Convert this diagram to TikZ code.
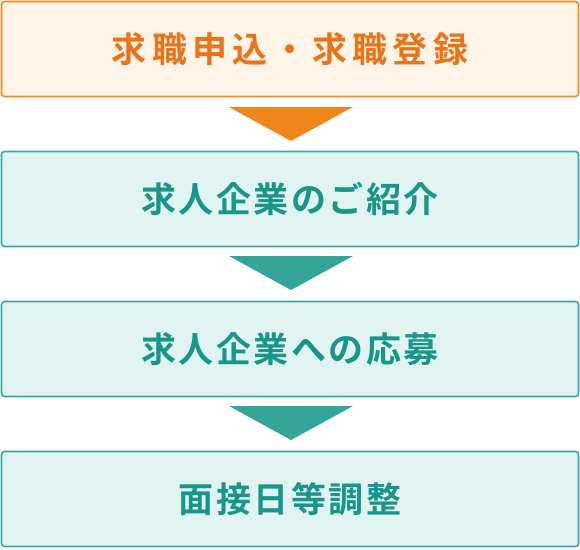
\documentclass[tikz,border=0pt]{standalone}
\usepackage{fontspec}
\newfontfamily\jpb[LetterSpace=7]{Noto Sans CJK JP Bold}
\newfontfamily\jpbw[LetterSpace=15]{Noto Sans CJK JP Bold}
\definecolor{obord}{HTML}{EF8B22}
\definecolor{ofill}{HTML}{FEF4E8}
\definecolor{otext}{HTML}{EC7418}
\definecolor{otri}{HTML}{EE861A}
\definecolor{tbord}{HTML}{3AA89D}
\definecolor{tfill}{HTML}{E1F4F2}
\definecolor{ttext}{HTML}{17968A}
\definecolor{ttri}{HTML}{35A59A}
\tikzset{
  stepbox/.style={draw=#1bord, fill=#1fill, line width=1.6pt, rounded corners=3pt,
    minimum width=577pt, minimum height=95pt, inner sep=0pt, text=#1text,
    font=\jpb\fontsize{35pt}{40pt}\selectfont},
  tri/.style={fill=#1tri, draw=none}
}
\begin{document}
\begin{tikzpicture}[x=1pt,y=-1pt]
\useasboundingbox (0,0) rectangle (580,549);
\node[stepbox=o, font=\jpbw\fontsize{35pt}{40pt}\selectfont] (s1) at (290,49) {求職申込\hspace{5pt}・\hspace{5pt}求職登録};
\node[stepbox=t] (s2) at (290,199) {求人企業のご紹介};
\node[stepbox=t] (s3) at (290,349) {求人企業への応募};
\node[stepbox=t] (s4) at (290,499) {面接日等調整};
\fill[tri=o] (229,107) -- (353,107) -- (291,141) -- cycle;
\fill[tri=t] (229,256) -- (353,256) -- (291,290) -- cycle;
\fill[tri=t] (229,406) -- (353,406) -- (291,440) -- cycle;
\end{tikzpicture}
\end{document}
